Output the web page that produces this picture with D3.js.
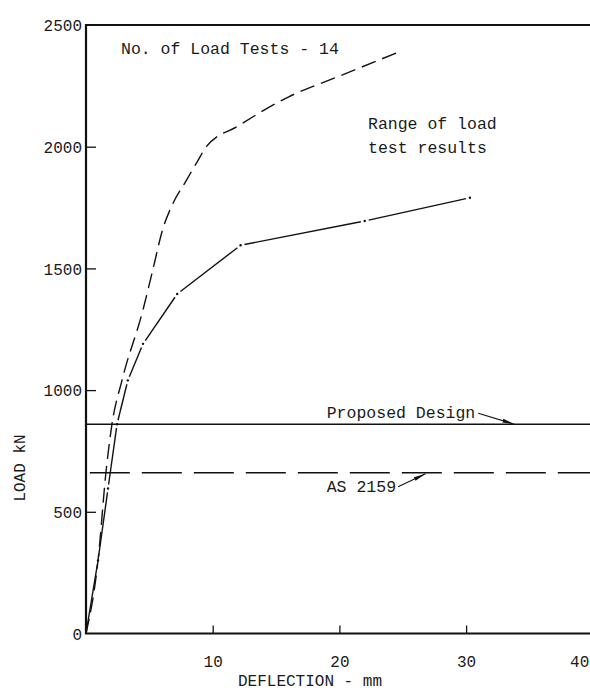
<!DOCTYPE html>
<html>
<head>
<meta charset="utf-8">
<script src="https://cdn.jsdelivr.net/npm/d3@7"></script>
<style>
  html, body { margin: 0; padding: 0; background: #fff; }
  svg { display: block; }
  text { font-family: "Liberation Mono", "DejaVu Sans Mono", monospace; fill: #1a1a1a; }
</style>
</head>
<body>
<svg id="chart" width="590" height="691"></svg>
<script>
// Axis ticks
const xTicks = [10, 20, 30, 40];
const yTicks = [0, 500, 1000, 1500, 2000, 2500];

// Upper bound of load test results (deflection mm, load kN)
const upperDefl = [0, 0.95, 1.58, 2.05, 2.84, 4.5, 5.3, 6.05, 6.8, 7.9, 8.8, 9.5, 12, 16, 20, 24.5];
const upperLoad = [0, 300, 665, 860, 1040, 1330, 1500, 1660, 1760, 1860, 1940, 2000, 2085, 2205, 2290, 2385];

// Lower bound of load test results
const lowerDefl = [0, 0.95, 1.74, 2.45, 3.3, 4.5, 7.2, 12.2, 22.0, 30.3];
const lowerLoad = [0, 300, 596, 860, 1040, 1190, 1395, 1595, 1695, 1790];

// Design loads (kN)
const proposedLoad = 860;
const as2159Load = 660;

const svg = d3.select("#chart");
const x = d3.scaleLinear().domain([0, 40]).range([86, 592.8]);
const y = d3.scaleLinear().domain([0, 2500]).range([633.5, 25]);

const ink = "#111";
const right = 600; // frame runs past the right edge of the page

// frame: top border, left and bottom axes
svg.append("path")
  .attr("d", `M${right},${y(2500)} H${x(0)} V${y(0)} H${right}`)
  .attr("fill", "none").attr("stroke", ink).attr("stroke-width", 2.2);

// x axis: ticks pointing inward, labels below
const xAxis = svg.append("g").attr("transform", `translate(0,${y(0)})`)
  .call(d3.axisBottom(x).tickValues(xTicks).tickSize(-8).tickPadding(22).tickFormat(d3.format("d")));
xAxis.select(".domain").remove();
xAxis.selectAll(".tick line").attr("stroke", ink).attr("stroke-width", 1.3);
xAxis.selectAll(".tick text").attr("font-size", 16).attr("fill", "#1a1a1a")
  .attr("font-family", null)
  .filter(d => d === 40)
  .attr("text-anchor", "end").attr("x", -4);

// y axis: ticks pointing inward, labels left
const yAxis = svg.append("g").attr("transform", `translate(${x(0)},0)`)
  .call(d3.axisLeft(y).tickValues(yTicks).tickSize(-10).tickPadding(5).tickFormat(d3.format("d")));
yAxis.select(".domain").remove();
yAxis.selectAll(".tick line").attr("stroke", ink).attr("stroke-width", 1.3)
  .attr("display", d => (d === 0 || d === 2500) ? "none" : null);
yAxis.selectAll(".tick text").attr("font-size", 16).attr("fill", "#1a1a1a")
  .attr("font-family", null).attr("x", -4).attr("dy", "0.36em");

// axis titles
svg.append("text")
  .attr("x", 310).attr("y", 686)
  .attr("text-anchor", "middle").attr("font-size", 16)
  .text("DEFLECTION - mm");
svg.append("text")
  .attr("transform", `translate(25,${y(680)}) rotate(-90)`)
  .attr("text-anchor", "middle").attr("font-size", 16)
  .text("LOAD kN");

const defs = svg.append("defs");
defs.append("clipPath").attr("id", "plot")
  .append("rect").attr("x", x(0)).attr("y", y(2500)).attr("width", right).attr("height", y(0) - y(2500));

const plot = svg.append("g").attr("clip-path", "url(#plot)");

// design load lines
plot.append("line")
  .attr("x1", x(0)).attr("x2", right)
  .attr("y1", y(proposedLoad)).attr("y2", y(proposedLoad))
  .attr("stroke", ink).attr("stroke-width", 1.5);
plot.append("line")
  .attr("x1", x(0.3)).attr("x2", right)
  .attr("y1", y(as2159Load)).attr("y2", y(as2159Load))
  .attr("stroke", ink).attr("stroke-width", 1.5)
  .attr("stroke-dasharray", "40,12");

// upper curve: dashed
const upperPts = upperDefl.map((d, i) => [x(d), y(upperLoad[i])]);
plot.append("path")
  .attr("d", d3.line().curve(d3.curveMonotoneX)(upperPts))
  .attr("fill", "none").attr("stroke", ink).attr("stroke-width", 1.4)
  .attr("stroke-dasharray", "15,7");

// lower curve: chain line, solid runs broken by a dot at each vertex
const lowerPts = lowerDefl.map((d, i) => [x(d), y(lowerLoad[i])]);
const gap = 4;
plot.selectAll("line.seg")
  .data(d3.pairs(lowerPts))
  .join("line")
  .attr("class", "seg")
  .each(function([a, b], i) {
    const dx = b[0] - a[0], dy = b[1] - a[1];
    const len = Math.hypot(dx, dy);
    const ux = dx / len, uy = dy / len;
    const g0 = i === 0 ? 0 : gap;
    d3.select(this)
      .attr("x1", a[0] + ux * g0).attr("y1", a[1] + uy * g0)
      .attr("x2", b[0] - ux * gap).attr("y2", b[1] - uy * gap);
  })
  .attr("stroke", ink).attr("stroke-width", 1.4);
plot.selectAll("circle.vtx")
  .data(lowerPts.slice(1))
  .join("circle")
  .attr("class", "vtx")
  .attr("cx", d => d[0]).attr("cy", d => d[1]).attr("r", 1.2)
  .attr("fill", ink);

// arrowhead
defs.append("marker")
  .attr("id", "arrow").attr("viewBox", "0 0 12 6")
  .attr("refX", 12).attr("refY", 3)
  .attr("markerWidth", 12).attr("markerHeight", 6)
  .attr("markerUnits", "userSpaceOnUse")
  .attr("orient", "auto")
  .append("path").attr("d", "M0,1 L12,3 L0,5 Z").attr("fill", ink);

// annotations
svg.append("text").attr("x", 121).attr("y", 54).attr("font-size", 16.5)
  .text("No. of Load Tests - 14");
svg.append("text").attr("x", 368).attr("y", 129).attr("font-size", 16.5)
  .text("Range of load");
svg.append("text").attr("x", 368).attr("y", 153).attr("font-size", 16.5)
  .text("test results");

const pd = svg.append("text").attr("x", x(19)).attr("y", y(proposedLoad) - 6)
  .attr("font-size", 16.5).text("Proposed Design");
svg.append("line")
  .attr("x1", x(19) + pd.node().getComputedTextLength() + 3).attr("y1", y(proposedLoad) - 11)
  .attr("x2", x(33.8)).attr("y2", y(proposedLoad))
  .attr("stroke", ink).attr("stroke-width", 1.1)
  .attr("marker-end", "url(#arrow)");

const as = svg.append("text").attr("x", x(19)).attr("y", y(as2159Load) + 19)
  .attr("font-size", 16.5).text("AS 2159");
svg.append("line")
  .attr("x1", x(19) + as.node().getComputedTextLength() + 2).attr("y1", y(as2159Load) + 14)
  .attr("x2", x(26.8)).attr("y2", y(as2159Load) + 1)
  .attr("stroke", ink).attr("stroke-width", 1.1)
  .attr("marker-end", "url(#arrow)");
</script>
</body>
</html>
